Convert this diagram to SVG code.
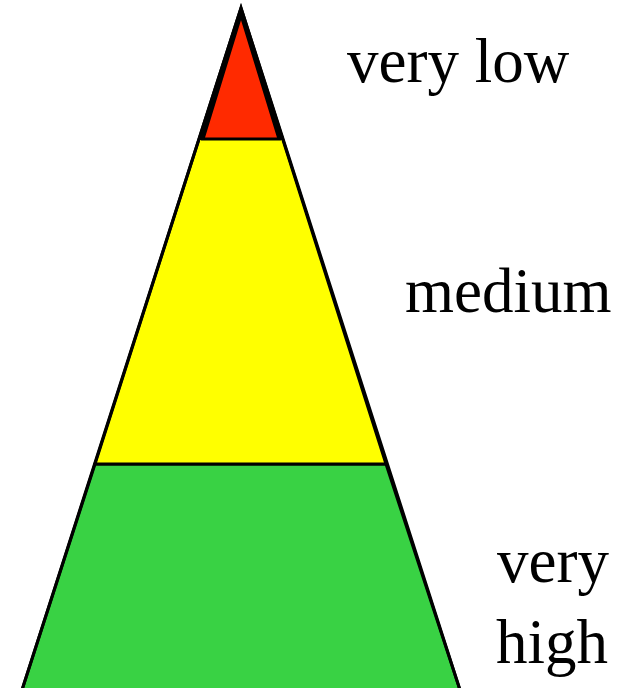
<svg xmlns="http://www.w3.org/2000/svg" width="627" height="688" viewBox="0 0 627 688">
<style>
.layer{stroke:#000;stroke-width:3;stroke-linejoin:miter}
.lbl{font-family:"Liberation Serif","Times New Roman",serif;font-size:63px;fill:#000}
</style>
<rect width="627" height="688" fill="#fff"/>
<g id="high-layer"><polygon class="layer" fill="#39d244" points="95,464 386,464 460,690 22,690"/></g>
<g id="medium-layer"><polygon class="layer" fill="#ffff00" points="241,8 386,464 95,464"/></g>
<g id="low-layer"><polygon fill="#000" points="241,8 284,140 198,140"/><polygon class="layer" fill="#ff2a00" points="241,15 279,139 203,139"/></g>
<g id="outline"><polyline fill="none" stroke="#000" stroke-width="3" points="22,690 241,8 460,690"/></g>
<g id="labels">
<text class="lbl" x="347" y="82">very low</text>
<text class="lbl" x="405" y="312">medium</text>
<text class="lbl" x="497" y="582">very</text>
<text class="lbl" x="496" y="663">high</text>
</g>
</svg>
